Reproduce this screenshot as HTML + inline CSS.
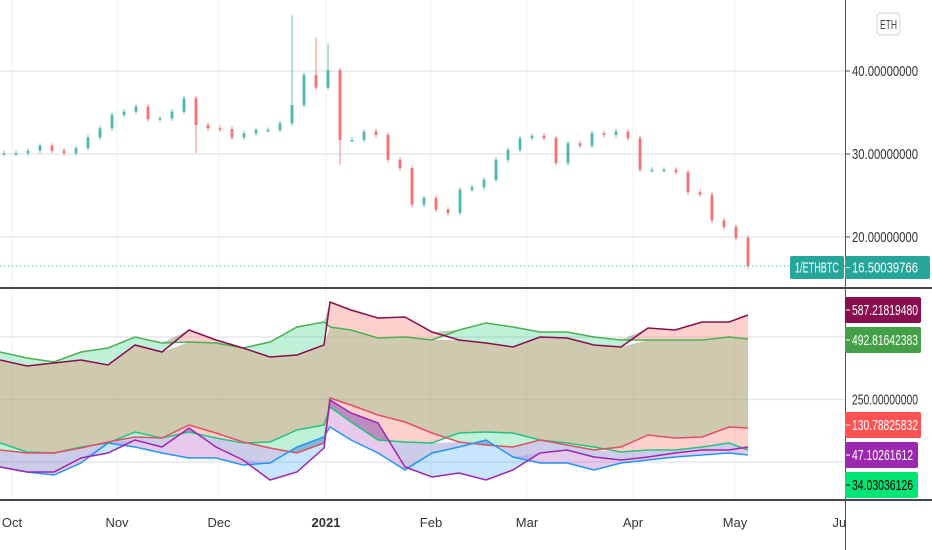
<!DOCTYPE html>
<html><head><meta charset="utf-8">
<style>
html,body{margin:0;padding:0;background:#fff;}
#wrap{position:relative;width:932px;height:550px;overflow:hidden;font-family:"Liberation Sans",sans-serif;}
svg{position:absolute;left:0;top:0;}
</style></head>
<body>
<div id="wrap">
<svg id="chart" width="932" height="550"></svg>
</div>
<script>
// ---- Price pane data (1/ETHBTC closes, sampled) ----
const priceCloses = [30.1,30.1,30.4,31.0,30.4,30.1,30.7,32.0,33.1,34.7,35.1,35.7,34.2,34.3,35.1,36.7,33.5,33.1,33.0,32.0,32.5,32.9,32.9,33.7,35.9,39.5,38.0,40.1,31.7,31.7,32.7,32.3,29.3,28.3,23.9,24.7,23.3,22.9,25.7,26.0,26.9,29.3,30.5,31.9,32.2,31.9,28.9,31.3,31.0,32.5,32.3,32.7,31.9,28.1,28.1,28.1,27.8,25.4,25.1,22.0,21.2,19.9,16.5];
const spikeIdx = [16,24,26,27,28];
const spikeVal = [30.1,46.7,44.0,43.3,28.7];
const priceTicks = [20,30,40];
const priceTickLabels = ["20.00000000","30.00000000","40.00000000"];
const lastPrice = 16.50039766;

// ---- Indicator pane data ----
const indX = [0,27,54,81,108,135,162,189,216,243,270,297,324,330,351,378,405,432,459,486,513,540,567,594,621,648,675,702,729,748];
const upperA = [408,384,396,408,388,468,440,528,488,456,420,428,468,640,608,576,580,520,488,476,460,500,496,468,460,536,528,560,560,588];
const upperB = [440,416,400,440,456,500,476,480,476,456,480,540,560,540,528,496,500,488,528,556,540,520,520,500,488,488,488,488,500,492];
const lowerA = [48,36,36,56,80,100,96,148,116,80,56,36,76,256,228,188,160,116,80,68,60,88,68,48,60,108,96,100,140,136];
const lowerB = [76,40,36,60,76,120,96,120,96,76,80,128,148,220,160,88,80,76,116,120,116,88,76,60,40,48,48,60,76,48];
const purpleS = [-20,-40,-40,16,36,88,60,136,60,8,-72,-40,56,248,196,156,-20,-60,-44,-72,-32,36,48,20,8,20,36,48,48,60];
const blueS = [-20,-40,-52,-4,76,60,36,16,16,-12,-4,60,100,140,88,36,-32,36,60,88,20,-4,-4,-32,-4,8,20,28,36,28];
const indTicks = [0,250,500];
const indLabels = ["587.21819480","492.81642383","130.78825832","47.10261612","34.03036126"];

const months = ["Oct","Nov","Dec","2021","Feb","Mar","Apr","May","Jun"];
const monthX = [12,117,219,326,431,527,633,735,843];

// ---- scales ----
const py = v => 154 - (v - 30) * 8.3;
const px = i => 4 + i * 12;
const iy = v => 462 - v / 4;
const ix = x => x;

const svg = document.getElementById('chart');
const NS = 'http://www.w3.org/2000/svg';
function mk(tag, attrs, parent){
  const e = document.createElementNS(NS, tag);
  for (const k in attrs) e.setAttribute(k, attrs[k]);
  (parent||svg).appendChild(e);
  return e;
}

// gridlines
const grid = mk('g', {});


monthX.slice(0,8).forEach(x=>{ const l=mk('line',{x1:x,x2:x,y1:0,y2:500,stroke:'#eef1f6','stroke-width':1},grid);   });
priceTicks.forEach(v=>{ const l=mk('line',{x1:0,x2:845,y1:py(v),y2:py(v),stroke:'#e6e9ef','stroke-width':1.5},grid);   });
indTicks.forEach(v=>{ const l=mk('line',{x1:0,x2:845,y1:iy(v),y2:iy(v),stroke:'#e6e9ef','stroke-width':1.5},grid);   });

// candles
const cg = mk('g', {});


for (let i=0;i<priceCloses.length;i++){
  const c = priceCloses[i], o = i>0 ? priceCloses[i-1] : c;
  let hi = Math.max(o,c)+0.3, lo = Math.min(o,c)-0.3;
  const si = spikeIdx.indexOf(i);
  if (si>=0){ if (spikeVal[si]>hi) hi=spikeVal[si]; else lo=Math.min(lo,spikeVal[si]); }
  const col = c>=o ? '#26a69a' : '#ef5350';
  const x = px(i);
  const w = mk('line',{x1:x,x2:x,y1:py(hi),y2:py(lo),stroke:col,'stroke-width':1,opacity:0.7},cg);
  
  
  const top = py(Math.max(o,c)), h = Math.max(1.5, py(Math.min(o,c)) - top);
  const b = mk('rect',{x:x-1.5,y:top,width:3,height:h,fill:col,opacity:0.7},cg);
  
  
}
const dl = mk('line',{x1:0,x2:845,y1:py(lastPrice),y2:py(lastPrice),stroke:'#26a69a','stroke-width':1,'stroke-dasharray':'1 3'});



// indicator fills
function pts(top, bot){
  let s = indX.map((x,k)=>ix(x)+','+iy(top[k])).join(' ');
  s += ' ' + indX.map((x,k)=>ix(x)+','+iy(bot[k])).reverse().join(' ');
  return s;
}
function fill(top, bot, color, name){
  const p = mk('polygon',{points:pts(top,bot),fill:color,stroke:'none'});
  
  
}
const maxArr=(a,b)=>a.map((v,k)=>Math.max(v,b[k]));
const minArr=(a,b)=>a.map((v,k)=>Math.min(v,b[k]));
fill(maxArr(upperA,upperB), upperB, 'rgba(244,67,54,0.25)', 'upper-red-fill');
fill(maxArr(upperA,upperB), upperA, 'rgba(0,200,100,0.25)', 'upper-green-fill');
fill(minArr(upperA,upperB), maxArr(lowerA,lowerB), 'rgba(160,150,95,0.5)', 'main-olive-fill');
fill(maxArr(lowerA,lowerB), lowerB, 'rgba(244,67,54,0.25)', 'lower-red-fill');
fill(maxArr(lowerA,lowerB), lowerA, 'rgba(0,200,100,0.25)', 'lower-green-fill');
fill(minArr(lowerA,lowerB), maxArr(purpleS,blueS), 'rgba(110,110,190,0.35)', 'middle-blue-fill');
fill(maxArr(purpleS,blueS), purpleS, 'rgba(33,150,243,0.25)', 'blue-fill');
fill(maxArr(purpleS,blueS), blueS, 'rgba(156,39,176,0.25)', 'purple-fill');

function line(arr, color, name){
  const p = mk('polyline',{points:indX.map((x,k)=>ix(x)+','+iy(arr[k])).join(' '),fill:'none',stroke:color,'stroke-width':1.5});
  
  
}
line(upperB,'#4caf50','upper-green-line');
line(upperA,'#880e4f','upper-maroon-line');
line(lowerB,'#26c281','lower-green-line');
line(lowerA,'#e05060','lower-red-line');
line(blueS,'#2196f3','blue-line');
line(purpleS,'#9c27b0','purple-line');

// pane borders & axis
[[0,288,932,288,2],[0,500,932,500,2]].forEach(a=>{ const l=mk('line',{x1:a[0],y1:a[1],x2:a[2],y2:a[3],stroke:'#434651','stroke-width':a[4]});   });
const ax = mk('line',{x1:845.5,x2:845.5,y1:0,y2:550,stroke:'#50535e','stroke-width':1});



function txt(x,y,s,len,fill,parent,extra){
  const a={x:x,y:y,'font-size':15,fill:fill,'font-family':'Liberation Sans, sans-serif'};
  if(len){a.textLength=len;a.lengthAdjust='spacingAndGlyphs';}
  Object.assign(a,extra||{});
  const t=mk('text',a,parent);
  t.textContent=s;
  return t;
}

// price ticks
priceTicks.forEach((v,k)=>{
  const t=mk('line',{x1:846,x2:850,y1:py(v),y2:py(v),stroke:'#50535e'});
  
  
  const tx=txt(852,py(v)+5,priceTickLabels[k],66,'#333');
  
  
});
const t250=txt(852,iy(250)+5,'250.00000000',66,'#333');



// labels
function tag(x,y,w,h,bg,fg,s,tl,name){
  const g=mk('g',{});
  
  
  mk('rect',{x:x,y:y,width:w,height:h,rx:2,fill:bg},g);
  mk('line',{x1:846,x2:850,y1:y+h/2,y2:y+h/2,stroke:fg},g);
  txt(x+(x===845?7:5),y+h/2+5,s,tl,fg,g);
}
tag(845,256,85,23,'#26a69a','#fff',lastPrice.toFixed(8),66,'last-price-label');
tag(790,256,54,23,'#26a69a','#fff','1/ETHBTC',44,'symbol-label');
const lc=['#880e4f','#43a047','#ff5252','#9c27b0','#00e676'];
const lf=['#fff','#fff','#fff','#fff','#000'];
const ly=[297,327,412,442,472];
const lw=[76,76,76,73,73];
const ll=[66,66,66,61,61];
indLabels.forEach((s,k)=>tag(845,ly[k],lw[k],26,lc[k],lf[k],s,ll[k],'indicator-value-label'));

// ETH button
const eg=mk('g',{});


mk('rect',{x:877,y:13,width:23,height:22,rx:4,fill:'#fff',stroke:'#d1d4dc'},eg);
txt(880,29,'ETH',17,'#444',eg,{'font-size':13});

// time axis
months.forEach((m,k)=>{
  const t=txt(monthX[k],527,m,null,'#333',null,{'font-size':13,'text-anchor':'middle','font-weight':m==='2021'?'bold':'normal'});
  
  
});
const cover=mk('rect',{x:846,y:501,width:86,height:49,fill:'#fff'});


</script>
</body></html>
